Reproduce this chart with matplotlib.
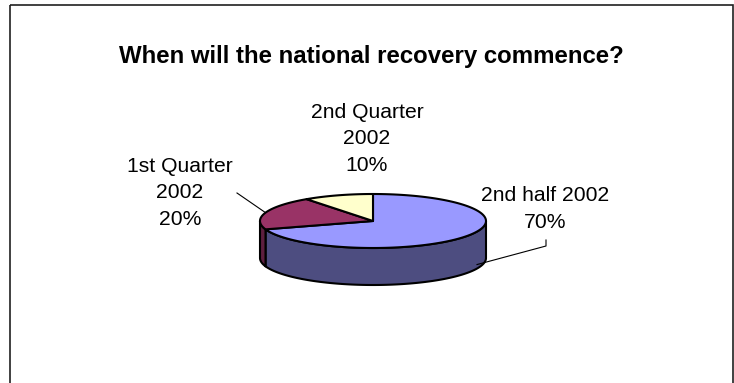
import numpy as np
import matplotlib
matplotlib.use("Agg")
import matplotlib.pyplot as plt
from matplotlib.patches import Polygon, Rectangle

# ---- data ----
categories = ["2nd half 2002", "1st Quarter\n2002", "2nd Quarter\n2002"]
values = [70, 20, 10]
top_colors = ["#9999FF", "#993366", "#FFFFCC"]
side_colors = ["#4D4D80", "#5E1F3F", "#80806A"]
title = "When will the national recovery commence?"

# ---- layout (pixel units) ----
W, H = 734, 383
cx, cy, a, b, depth = 373, 221, 113, 27, 37
label_pos = [(545, 209), (180, 193), (367, 139)]

fig = plt.figure(figsize=(W / 100, H / 100), dpi=100)
ax = fig.add_axes([0, 0, 1, 1])
ax.set_xlim(0, W)
ax.set_ylim(H, 0)
ax.axis("off")

FONT = "Liberation Sans"


def pt(theta_deg, dz=0.0):
    t = np.radians(theta_deg)
    return cx + a * np.cos(t), cy - b * np.sin(t) + dz


def arc(t1, t2, dz=0.0, n=120):
    ts = np.linspace(t1, t2, n)
    xs, ys = pt(ts, dz)
    return np.column_stack([xs, ys])


total = float(sum(values))
spans = []
start = 90.0
for v in values:
    end = start - 360.0 * v / total
    spans.append((end, start))
    start = end

lw = 1.5
# side faces (front half of the cylinder)
for (t1, t2), sc in zip(spans, side_colors):
    for k in (-1, 0, 1):
        lo, hi = -180 + 360 * k, 360 * k
        s1, s2 = max(t1, lo), min(t2, hi)
        if s2 > s1:
            top = arc(s1, s2)
            bot = arc(s1, s2, depth)[::-1]
            poly = Polygon(np.vstack([top, bot]), closed=True, facecolor=sc,
                           edgecolor="black", linewidth=lw, joinstyle="round")
            ax.add_patch(poly)

# top faces
for (t1, t2), tc in zip(spans, top_colors):
    pts = np.vstack([[cx, cy], arc(t1, t2)])
    ax.add_patch(Polygon(pts, closed=True, facecolor=tc, edgecolor="black",
                         linewidth=lw, joinstyle="round"))

# labels
for (t1, t2), cat, v, (lx, ly) in zip(spans, categories, values, label_pos):
    ax.text(lx, ly, f"{cat}\n{v}%", ha="center", va="center", fontsize=15.2,
            family=FONT, linespacing=1.47, color="black")

# leader lines
m1 = 0.5 * (spans[1][0] + spans[1][1])
x1, y1 = pt(m1)
ax.plot([237, x1], [193, y1], color="black", lw=0.8)
x0, y0 = pt(-23, depth - 4)
ax.plot([x0, 546, 546], [y0, 246, 240], color="black", lw=0.8)

# title
ax.text(371, 57, title, ha="center", va="center", fontsize=17.3,
        fontweight="bold", family=FONT, color="black")

# frame
ax.add_patch(Rectangle((9.5, 5), 723.5, 420, fill=False, edgecolor="#202020",
                       linewidth=1.2, clip_on=True))

fig.savefig("out.png", dpi=100)
